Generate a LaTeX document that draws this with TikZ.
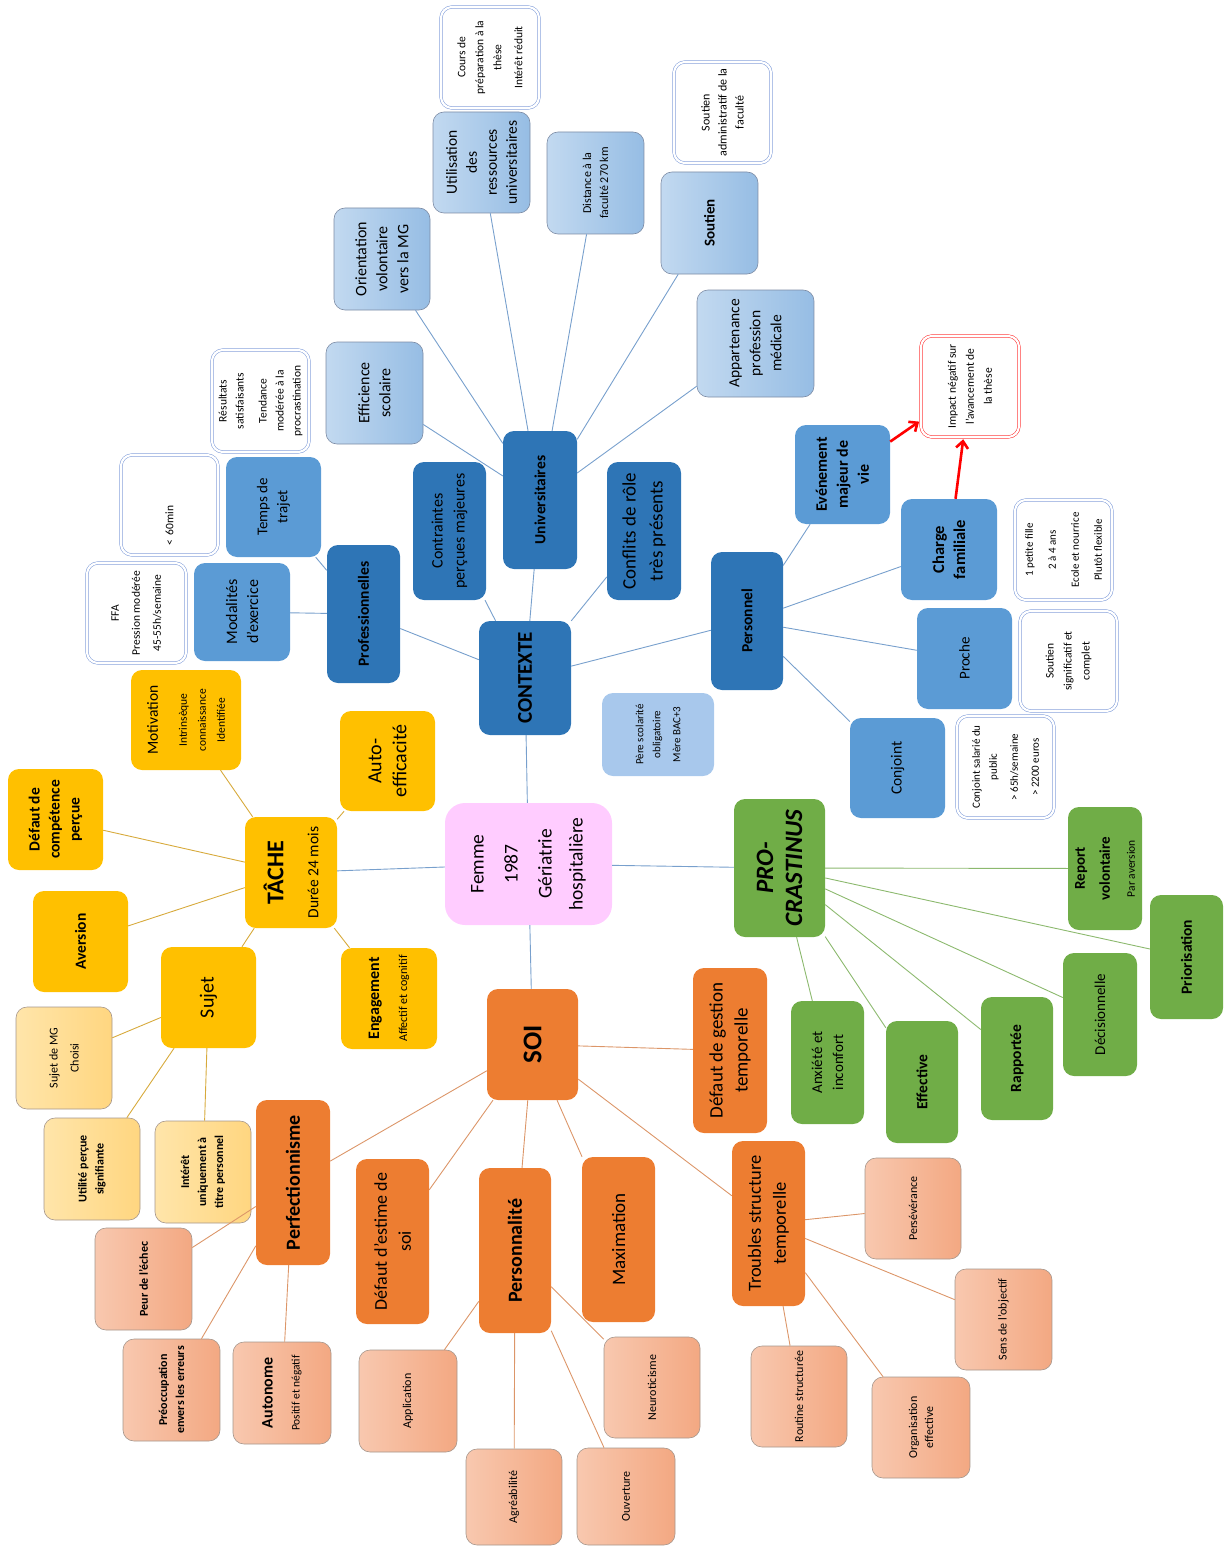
\documentclass[tikz,border=0pt]{standalone}
\usepackage{fontspec}
\setmainfont{Carlito}
\usetikzlibrary{arrows.meta,positioning}
\definecolor{ctxdark}{RGB}{46,117,182}
\definecolor{ctxmid}{RGB}{91,155,213}
\definecolor{ctxlightA}{RGB}{194,217,240}
\definecolor{ctxlightB}{RGB}{150,189,228}
\definecolor{ctxedge}{RGB}{125,140,165}
\definecolor{infoblue}{RGB}{120,150,215}
\definecolor{parentblue}{RGB}{168,200,236}
\definecolor{tacheyellow}{RGB}{255,192,0}
\definecolor{sujetA}{RGB}{255,229,170}
\definecolor{sujetB}{RGB}{255,214,128}
\definecolor{soiorange}{RGB}{237,125,49}
\definecolor{salmonA}{RGB}{248,200,175}
\definecolor{salmonB}{RGB}{243,168,130}
\definecolor{cardedge}{RGB}{165,150,140}
\definecolor{procgreen}{RGB}{112,173,71}
\definecolor{centrepink}{RGB}{255,204,255}
\definecolor{lnkblue}{RGB}{120,160,205}
\definecolor{lnkyellow}{RGB}{215,170,60}
\definecolor{lnkorange}{RGB}{220,150,105}
\definecolor{lnkgreen}{RGB}{140,185,110}
\newcommand\fsz[2]{\fontsize{#1}{#2}\selectfont}

\begin{document}
\begin{tikzpicture}[x=1pt,y=-1pt,
    card/.style={rounded corners=11pt,rotate=90,align=center,inner sep=2pt},
    wh/.style 2 args={minimum height=#1,minimum width=#2},
    dark/.style={card,fill=ctxdark},
    mid/.style={card,fill=ctxmid},
    pale/.style={card,left color=ctxlightA,right color=ctxlightB,
                 draw=ctxedge,line width=0.6pt},
    info/.style={card,fill=white,draw=infoblue,double=white,
                 double distance=2.2pt,line width=0.5pt,font=\fsz{11.5}{18}},
    yel/.style={card,fill=tacheyellow},
    cream/.style={card,left color=sujetA,right color=sujetB,
                  draw=cardedge,line width=0.6pt,font=\fsz{12}{17}},
    orng/.style={card,fill=soiorange},
    salm/.style={card,left color=salmonA,right color=salmonB,
                 draw=cardedge,line width=0.6pt,font=\fsz{12}{16}},
    grn/.style={card,fill=procgreen},
    blnk/.style={draw=lnkblue,line width=0.9pt},
    ylnk/.style={draw=lnkyellow,line width=0.9pt},
    olnk/.style={draw=lnkorange,line width=0.9pt},
    glnk/.style={draw=lnkgreen,line width=0.9pt},
    redarr/.style={draw=red,line width=2.6pt,
                   -{Straight Barb[length=7pt,width=12pt]},shorten >=2pt},
  ]
  \useasboundingbox (0,0) rectangle (1226,1546);

  % centre
  \node[card,fill=centrepink,rounded corners=20pt,wh={167}{122},
    font=\fsz{19.5}{31}](femme) at (528.5,864)
    {Femme\\[3pt]1987\\[3pt]Gériatrie\\hospitalière};

  % contexte
  \node[dark,wh={92}{114},font=\fsz{21}{25}\bfseries](ctx) at (525,678){CONTEXTE};
  \node[dark,wh={73}{138},font=\fsz{15.5}{19}\bfseries](prof) at (363.5,614){Professionnelles};
  \node[dark,wh={73}{138},font=\fsz{16}{22}](contr) at (449.5,531){Contraintes\\perçues majeures};
  \node[dark,wh={74}{138},font=\fsz{15.5}{19}\bfseries](univ) at (540,500){Universitaires};
  \node[dark,wh={74}{138},font=\fsz{19}{27}](confl) at (644,531){Conflits de rôle\\très présents};
  \node[dark,wh={72}{138},font=\fsz{15.5}{19}\bfseries](perso) at (747,621){Personnel};

  \node[mid,wh={95}{100},font=\fsz{15}{20}](trajet) at (273.5,507){Temps de\\trajet};
  \node[mid,wh={96}{98},font=\fsz{16}{21}](modal) at (242,612){Modalités\\d'exercice};
  \node[info,wh={97}{100},text width=80pt,align=left](tmin) at (169.5,505){< 60min};
  \node[info,wh={99}{100}](ffa) at (136.5,613){FFA\\[3pt]Pression modérée\\[3pt]45-55h/semaine};

  \node[pale,wh={97}{102},font=\fsz{16}{21}](effic) at (374.5,393){Efficience\\scolaire};
  \node[pale,wh={96}{102},font=\fsz{16}{21}](orient) at (382,259){Orientation\\volontaire\\vers la MG};
  \node[pale,wh={97}{101},font=\fsz{15.5}{20}](util) at (481.5,162.5){Utilisation\\des\\ressources\\universitaires};
  \node[pale,wh={97}{102},font=\fsz{12}{17}](dist) at (595.5,183){Distance à la\\faculté 270 km};
  \node[pale,wh={97}{102},font=\fsz{15}{19}\bfseries](sout) at (709.5,223){Soutien};
  \node[pale,wh={117}{107},font=\fsz{15.5}{21}](appart) at (755.5,343.5){Appartenance\\profession\\médicale};
  \node[info,wh={97}{102},font=\fsz{11.5}{17}](result) at (260.5,401){Résultats\\satisfaisants\\[6pt]Tendance\\modérée à la\\procrastination};
  \node[info,wh={98}{101}](cours) at (490,57.5){Cours de\\préparation à la\\thèse\\[3pt]Intérêt réduit};
  \node[info,wh={97}{101},font=\fsz{12}{17}](admin) at (722.5,112.5){Soutien\\administratif de la\\faculté};

  \node[mid,wh={95}{99},font=\fsz{16}{21}\bfseries](event) at (842.5,474.5){Evénement\\majeur de\\vie};
  \node[mid,wh={96}{101},font=\fsz{16.5}{21}\bfseries](charge) at (949,549.5){Charge\\familiale};
  \node[mid,wh={95}{101},font=\fsz{15}{20}](proche) at (964.5,658.5){Proche};
  \node[mid,wh={95}{100},font=\fsz{15.5}{20}](conj) at (897.5,768){Conjoint};
  \node[info,draw=red!85,wh={98}{101}](impact) at (970,386.5){Impact négatif sur\\l'avancement de\\la thèse};
  \node[info,wh={97}{100},font=\fsz{11}{23}](fille) at (1063.5,550){1 petite fille\\2 à 4 ans\\Ecole et nourrice\\Plutôt flexible};
  \node[info,wh={97}{100}](signif) at (1068.5,661){Soutien\\significatif et\\complet};
  \node[info,wh={97}{102},font=\fsz{11}{17}](conjinfo) at (1005.5,767){Conjoint salarié du\\public\\[4pt]> 65h/semaine\\[4pt]> 2200 euros};
  \node[card,fill=parentblue,wh={112}{83},font=\fsz{11}{17}](parents) at (658,734.5){Père scolarité\\obligatoire\\[3pt]Mère BAC+3};

  % tache
  \node[yel,wh={92}{111},font=\fsz{15.5}{20}](tache) at (291,872.5){{\fsz{24}{30}\bfseries TÂCHE}\\[15pt]Durée 24 mois};
  \node[yel,wh={110}{100},font=\fsz{11.5}{19}](motiv) at (186,720){{\fsz{15.5}{20}Motivation}\\[10pt]Intrinsèque\\connaissance\\Identifiée};
  \node[yel,wh={95}{100},font=\fsz{20}{25}](autoeff) at (387.5,761){Auto-\\efficacité};
  \node[yel,wh={95}{101},font=\fsz{15.5}{20}\bfseries](defcomp) at (55.5,819.5){Défaut de\\compétence\\perçue};
  \node[yel,wh={95}{101},font=\fsz{15.5}{20}\bfseries](avers) at (80.5,941.5){Aversion};
  \node[yel,wh={95}{101},font=\fsz{20}{25}](sujet) at (208.5,997.5){Sujet};
  \node[yel,wh={96}{101},font=\fsz{12}{28}](engag) at (389,998.5){{\fsz{16}{20}\bfseries Engagement}\\Affectif et cognitif};
  \node[cream,wh={96}{102}](sujetmg) at (64,1058){Sujet de MG\\[4pt]Choisi};
  \node[cream,wh={96}{102},font=\fsz{12}{17}\bfseries](utilite) at (92,1169){Utilité perçue\\signifiante};
  \node[cream,wh={96}{102},font=\fsz{12}{17}\bfseries](interet) at (203,1172){Intérêt\\uniquement à\\titre personnel};

  % soi
  \node[orng,wh={91}{111},font=\fsz{27}{32}\bfseries](soi) at (532.5,1044.5){SOI};
  \node[orng,wh={74}{165},font=\fsz{20}{24}\bfseries](perfect) at (293,1182.5){Perfectionnisme};
  \node[orng,wh={73}{165},font=\fsz{18}{24}](estime) at (392.5,1241.5){Défaut d'estime de\\soi};
  \node[orng,wh={72}{165},font=\fsz{20}{24}\bfseries](personn) at (515,1250.5){Personnalité};
  \node[orng,wh={73}{165},font=\fsz{19}{24}](maxim) at (618.5,1239.5){Maximation};
  \node[orng,wh={74}{165},font=\fsz{19}{25}](gestion) at (730,1050.5){Défaut de gestion\\temporelle};
  \node[orng,wh={73}{165},font=\fsz{18.5}{25}](troubles) at (768.5,1223.5){Troubles structure\\temporelle};

  \node[salm,wh={97}{102},font=\fsz{12}{16}\bfseries](peur) at (143.5,1279){Peur de l'échec};
  \node[salm,wh={97}{102},font=\fsz{12}{17}\bfseries](preoc) at (171.5,1390){Préoccupation\\envers les erreurs};
  \node[salm,wh={98}{102},font=\fsz{11.5}{27}](autonome) at (282,1393){{\fsz{16}{20}\bfseries Autonome}\\Positif et négatif};
  \node[salm,wh={98}{102}](applic) at (408,1401){Application};
  \node[salm,wh={96}{96}](agreab) at (514,1497){Agréabilité};
  \node[salm,wh={98}{97}](ouvert) at (626,1496.5){Ouverture};
  \node[salm,wh={96}{101}](neuro) at (652,1387.5){Neuroticisme};
  \node[salm,wh={96}{101}](persev) at (913,1208.5){Persévérance};
  \node[salm,wh={97}{101}](sensobj) at (1003.5,1319.5){Sens de l'objectif};
  \node[salm,wh={98}{101}](organis) at (921,1427.5){Organisation\\effective};
  \node[salm,wh={96}{101}](routine) at (799,1396.5){Routine structurée};

  % procrastinus
  \node[grn,wh={91}{138},font=\fsz{25}{29}\bfseries\itshape](procr) at (779.5,868){PRO-\\CRASTINUS};
  \node[grn,wh={74}{123},font=\fsz{11.5}{25}](report) at (1105,868.5){{\fsz{15}{19}\bfseries Report}\\{\fsz{15}{19}\bfseries volontaire}\\Par aversion};
  \node[grn,wh={73}{124},font=\fsz{15.5}{20}\bfseries](prior) at (1186.5,957){Priorisation};
  \node[grn,wh={74}{123},font=\fsz{15}{20}](decis) at (1100,1014.5){Décisionnelle};
  \node[grn,wh={72}{123},font=\fsz{15.5}{20}\bfseries](rapport) at (1017,1058.5){Rapportée};
  \node[grn,wh={72}{122},font=\fsz{15.5}{20}\bfseries](effect) at (922,1082){Effective};
  \node[grn,wh={73}{123},font=\fsz{15}{21}](anxiete) at (827.5,1062.5){Anxiété et\\inconfort};

  % liens
  \draw[blnk](femme)--(ctx); \draw[blnk](femme)--(tache);
  \draw[blnk](femme)--(procr); \draw[blnk](femme)--(soi);
  \draw[blnk](ctx)--(prof); \draw[blnk](ctx)--(contr); \draw[blnk](ctx)--(univ);
  \draw[blnk](ctx)--(confl); \draw[blnk](ctx)--(perso);
  \draw[blnk](prof)--(trajet); \draw[blnk](prof)--(modal);
  \draw[blnk](univ)--(effic); \draw[blnk](univ)--(orient); \draw[blnk](univ)--(util);
  \draw[blnk](univ)--(dist); \draw[blnk](univ)--(sout); \draw[blnk](univ)--(appart);
  \draw[blnk](perso)--(event); \draw[blnk](perso)--(charge);
  \draw[blnk](perso)--(proche); \draw[blnk](perso)--(conj);
  \draw[redarr](event)--(impact); \draw[redarr](charge)--(impact);

  \draw[ylnk](tache)--(motiv); \draw[ylnk](tache)--(autoeff); \draw[ylnk](tache)--(defcomp);
  \draw[ylnk](tache)--(avers); \draw[ylnk](tache)--(sujet); \draw[ylnk](tache)--(engag);
  \draw[ylnk](sujet)--(sujetmg); \draw[ylnk](sujet)--(utilite); \draw[ylnk](sujet)--(interet);

  \draw[olnk](soi)--(perfect); \draw[olnk](soi)--(estime); \draw[olnk](soi)--(personn);
  \draw[olnk](soi)--(maxim); \draw[olnk](soi)--(gestion); \draw[olnk](soi)--(troubles);
  \draw[olnk](perfect)--(peur); \draw[olnk](perfect)--(preoc); \draw[olnk](perfect)--(autonome);
  \draw[olnk](personn)--(applic); \draw[olnk](personn)--(agreab);
  \draw[olnk](personn)--(ouvert); \draw[olnk](personn)--(neuro);
  \draw[olnk](troubles)--(persev); \draw[olnk](troubles)--(sensobj);
  \draw[olnk](troubles)--(organis); \draw[olnk](troubles)--(routine);

  \draw[glnk](procr)--(report); \draw[glnk](procr)--(prior); \draw[glnk](procr)--(decis);
  \draw[glnk](procr)--(rapport); \draw[glnk](procr)--(effect); \draw[glnk](procr)--(anxiete);
\end{tikzpicture}
\end{document}
